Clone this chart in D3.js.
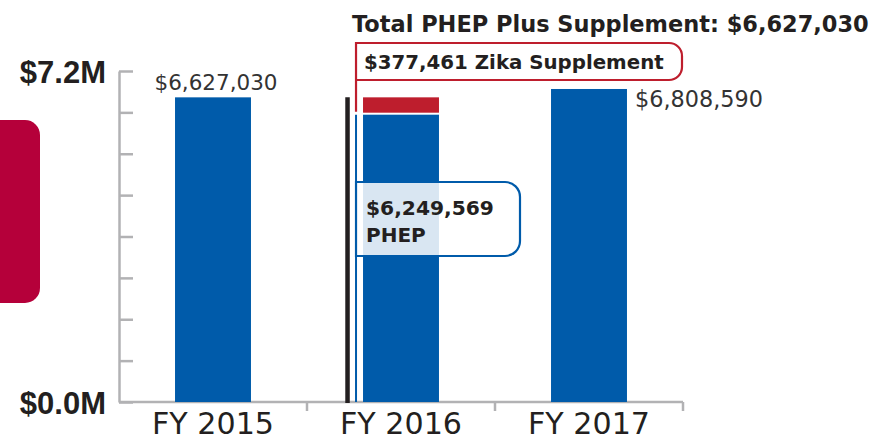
<!DOCTYPE html>
<html>
<head>
<meta charset="utf-8">
<script src="https://cdn.jsdelivr.net/npm/d3@7"></script>
<style>
  body { margin: 0; background: #fff; }
  svg { display: block; font-family: "DejaVu Sans", sans-serif; }
</style>
</head>
<body>
<div id="chart"></div>
<script>
// data
let years = ["FY 2015", "FY 2016", "FY 2017"];
let phep = [6627030, 6249569, 6808590];
let zika = [0, 377461, 0];
let yTickValues = [0, 900000, 1800000, 2700000, 3600000, 4500000, 5400000, 6300000, 7200000];
let yLabelValues = [0, 7200000];

let w = 875, h = 440;
let blue = "#005baa", red = "#be1e2d", dark = "#231f20", grey = "#b2b2b4";
let money = function(v){ return "$" + d3.format(",")(v); };

let svg = d3.select("#chart").append("svg")
    .attr("width", w)
    .attr("height", h);

// shrink / grow a text's font size so it spans about the given width
function fitWidth(sel, target){
  sel.each(function(){
    let t = d3.select(this);
    let fs = parseFloat(t.attr("font-size"));
    let len = this.getComputedTextLength();
    if (len > 0) t.attr("font-size", (fs * target / len).toFixed(2));
  });
}

let data = years.map(function(d, i){
  return {year: d, phep: phep[i], zika: zika[i], total: phep[i] + zika[i]};
});

let x = d3.scaleBand().domain(years).range([119, 683]).padding(0);
let barW = x.bandwidth() * 0.404;
let y = d3.scaleLinear().domain([0, 7200000]).range([402, 71]);

// left decoration
svg.append("rect")
    .attr("x", -20).attr("y", 120)
    .attr("width", 60).attr("height", 183)
    .attr("rx", 15)
    .attr("fill", "#b5003a");

// y axis: ticks pointing inward, no labels
let yAxis = svg.append("g")
    .attr("transform", "translate(119,0)")
    .call(d3.axisRight(y).tickValues(yTickValues).tickSize(14).tickSizeOuter(0).tickFormat(""));
yAxis.selectAll("path, line").attr("stroke", grey).attr("stroke-width", 2.5);

// only two labels on the left
svg.append("g")
    .attr("transform", "translate(106,0)")
    .call(d3.axisLeft(y).tickValues(yLabelValues).tickSize(0).tickPadding(0)
      .tickFormat(function(d){ return "$" + (d / 1e6).toFixed(1) + "M"; }))
    .call(function(g){
      g.select(".domain").remove();
      g.selectAll("text")
        .attr("font-family", "'Liberation Sans', Arial, sans-serif")
        .attr("font-weight", "bold")
        .attr("font-size", 31)
        .attr("fill", dark)
        .attr("dy", "0.36em");
    });

// x axis line + ticks at band edges
svg.append("line")
    .attr("x1", 119).attr("x2", 683)
    .attr("y1", y(0)).attr("y2", y(0))
    .attr("stroke", grey).attr("stroke-width", 2.5);
svg.selectAll(".xtick").data(years).enter().append("line")
    .attr("class", "xtick")
    .attr("x1", function(d){ return x(d) + x.bandwidth(); })
    .attr("x2", function(d){ return x(d) + x.bandwidth(); })
    .attr("y1", y(0)).attr("y2", y(0) + 9)
    .attr("stroke", grey).attr("stroke-width", 2.5);

svg.append("g")
    .attr("transform", "translate(0," + y(0) + ")")
    .call(d3.axisBottom(x).tickSize(0).tickPadding(0))
    .call(function(g){
      g.select(".domain").remove();
      g.selectAll("text")
        .attr("font-family", "'DejaVu Sans', sans-serif")
        .attr("font-size", 29)
        .attr("fill", dark)
        .attr("dy", 0)
        .attr("y", 32)
        .call(fitWidth, 122);
    });

function barX(d){ return x(d.year) + (x.bandwidth() - barW) / 2; }

// blue PHEP bars
svg.selectAll(".bar").data(data).enter().append("rect")
    .attr("class", "bar")
    .attr("x", barX)
    .attr("y", function(d){ return y(d.phep); })
    .attr("width", barW)
    .attr("height", function(d){ return y(0) - y(d.phep); })
    .attr("fill", blue);

// red Zika supplement
svg.selectAll(".zika").data(data.filter(function(d){ return d.zika > 0; })).enter().append("rect")
    .attr("class", "zika")
    .attr("x", barX)
    .attr("y", function(d){ return y(d.total); })
    .attr("width", barW)
    .attr("height", function(d){ return y(d.phep) - y(d.total) - 2; })
    .attr("fill", red);

// value labels
let d15 = data[0], d17 = data[2], d16 = data[1];
svg.append("text")
    .attr("x", barX(d15) + barW / 2 + 3)
    .attr("y", y(d15.total) - 7)
    .attr("text-anchor", "middle")
    .attr("font-size", 21.5)
    .attr("fill", "#333")
    .text(money(d15.total))
    .call(fitWidth, 123);
svg.append("text")
    .attr("x", barX(d17) + barW + 8)
    .attr("y", y(d17.total) + 18)
    .attr("font-size", 21.5)
    .attr("fill", "#333")
    .text(money(d17.total))
    .call(fitWidth, 128);

// FY 2016 annotation
let bx = barX(d16);
let lineX = bx - 7;
svg.append("line")
    .attr("x1", bx - 15.5).attr("x2", bx - 15.5)
    .attr("y1", y(d16.total)).attr("y2", y(0) + 1)
    .attr("stroke", dark).attr("stroke-width", 4.5);
svg.append("line")
    .attr("x1", lineX).attr("x2", lineX)
    .attr("y1", y(d16.phep)).attr("y2", y(0))
    .attr("stroke", blue).attr("stroke-width", 2);

// red callout (open on the left, rounded on the right)
let rTop = 43, rBot = 80, rRight = 682, rr = 13;
svg.append("path")
    .attr("d", "M" + lineX + "," + (y(d16.phep) - 3) +
      " V" + rTop + " H" + (rRight - rr) +
      " A" + rr + "," + rr + " 0 0 1 " + rRight + "," + (rTop + rr) +
      " V" + (rBot - rr) +
      " A" + rr + "," + rr + " 0 0 1 " + (rRight - rr) + "," + rBot +
      " H" + lineX)
    .attr("fill", "none")
    .attr("stroke", red).attr("stroke-width", 2.2);
svg.append("text")
    .attr("x", lineX + 8).attr("y", 69)
    .attr("font-size", 20).attr("font-weight", "bold")
    .attr("fill", dark)
    .text(money(d16.zika) + " Zika Supplement")
    .call(fitWidth, 300);

// blue callout
let bTop = 182, bBot = 256, bRight = 520, br = 15;
svg.append("path")
    .attr("d", "M" + lineX + "," + bTop + " H" + (bRight - br) +
      " A" + br + "," + br + " 0 0 1 " + bRight + "," + (bTop + br) +
      " V" + (bBot - br) +
      " A" + br + "," + br + " 0 0 1 " + (bRight - br) + "," + bBot +
      " H" + lineX + " Z")
    .attr("fill", "#fff").attr("fill-opacity", 0.85)
    .attr("stroke", blue).attr("stroke-width", 2.2);
svg.append("text")
    .attr("x", lineX + 10).attr("y", 215)
    .attr("font-size", 20).attr("font-weight", "bold")
    .attr("fill", dark)
    .text(money(d16.phep))
    .call(fitWidth, 128);
svg.append("text")
    .attr("x", lineX + 10).attr("y", 242)
    .attr("font-size", 20).attr("font-weight", "bold")
    .attr("fill", dark)
    .text("PHEP");

// title
svg.append("text")
    .attr("x", 352).attr("y", 32)
    .attr("font-size", 22).attr("font-weight", "bold")
    .attr("fill", dark)
    .text("Total PHEP Plus Supplement: " + money(d16.total))
    .call(fitWidth, 517);
</script>
</body>
</html>
